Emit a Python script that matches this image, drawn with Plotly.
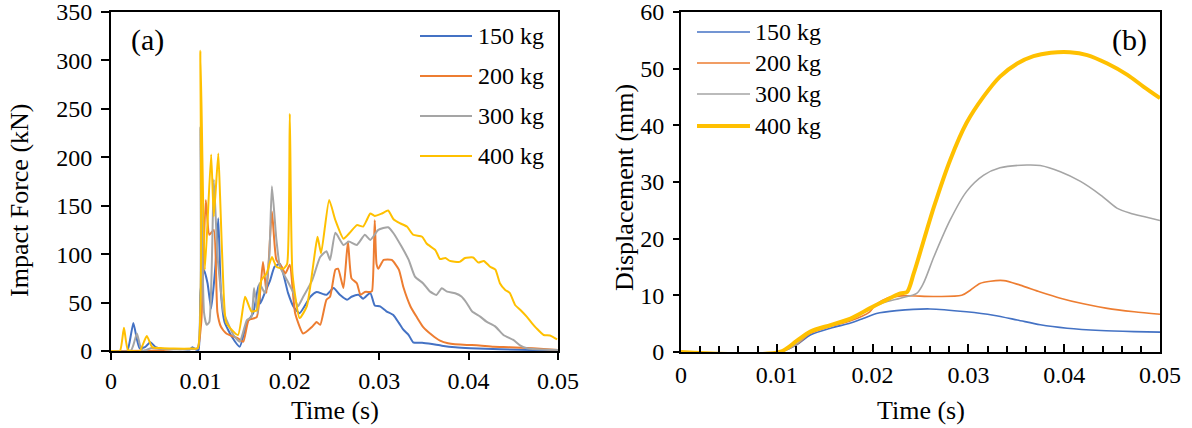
import plotly.graph_objects as go

W, H = 1192, 428
FONT = "Liberation Serif, Times New Roman, serif"

# ---------------- Panel (a): Impact force ----------------
t_150 = [0, .0018, .0021, .0025, .0029, .0032, .0038, .0044, .005, .006, .008, .0088, .0091, .0095, .0098,
         .01, .0104, .0108, .0112, .0117, .012, .0123, .0127, .0135, .0144, .0152, .0159, .0165, .0167, .0172,
         .0178, .0183, .0189, .0198, .0204, .0211, .0223, .023, .0241, .0249, .0256, .0264, .0269, .0277, .0282,
         .029, .0295, .0301, .0308, .0316, .0322, .0327, .0333, .0338, .0348, .0359, .037, .0385, .0402, .0435, .05]
f_150 = [0, 0, 10, 29, 12, 3, 4, 9, 4, 2, 2, 1.5, 4, 1.5, 1,
         60, 84, 70, 44, 90, 137, 60, 30, 15, 4.5, 29, 39, 68, 49, 60,
         73, 87, 90, 60, 46, 39, 56, 61, 58, 65, 58, 53, 56, 58, 54,
         60, 47, 46, 41, 37, 29, 22, 16.5, 9, 8.6, 7.2, 5.5, 3.8, 2.8, 1.7, 0.4]

t_200 = [0, .005, .007, .009, .0097, .0101, .0106, .011, .0115, .0119, .0123, .0129, .0142, .0148, .0154,
         .0163, .017, .0174, .018, .0185, .0191, .0195, .02, .0206, .0215, .0225, .023, .0234, .0241, .0245,
         .0251, .0254, .026, .0265, .0269, .0275, .0279, .0284, .029, .0292, .0295, .0297, .0299, .0305, .0314,
         .0322, .0327, .0335, .0342, .0349, .0359, .0368, .0377, .0398, .0409, .0428, .0446, .0472, .05]
f_200 = [0, 0.5, 2, 2, 3, 30, 156, 120, 125, 40, 25, 18, 13, 9.6, 32,
         35, 92, 60, 144, 94, 87, 80, 89, 39, 18, 25, 30, 27, 53, 56,
         84, 85, 65, 113, 75, 70, 58, 61, 61, 62, 135, 90, 85, 94, 94,
         84, 66, 46, 35, 25, 16.5, 10.7, 8, 6.2, 6, 4.5, 4, 2.8, 1]

t_300 = [0, .0022, .0025, .0029, .0033, .0036, .0045, .006, .009, .0097, .01, .0104, .0107, .011, .0115,
         .0119, .0122, .0126, .0137, .0144, .0152, .0157, .016, .0164, .0166, .0172, .0177, .018, .0185, .0189,
         .0197, .0204, .0209, .0215, .0225, .0234, .0241, .0245, .0251, .026, .0266, .0275, .0284, .029, .0299,
         .031, .0316, .0325, .0333, .034, .0349, .0357, .0364, .037, .0376, .0385, .0392, .0398, .0404, .0413,
         .042, .043, .0439, .045, .0458, .0465, .0476, .05]
f_300 = [0, 0, 6, 18, 4, 0, 3, 2, 2, 3, 231, 40, 27, 30, 177,
         100, 70, 40, 16.5, 9.6, 32, 35, 65, 39, 70, 60, 97, 170, 115, 87,
         73, 60, 46, 56, 73, 97, 103, 94, 122, 109.5, 113, 109.5, 120, 114.7, 125,
         127.8, 121.6, 107.8, 94, 76.8, 70, 61.3, 57.9, 64.8, 61.3, 59.6, 56.2, 49.3, 40.7, 35.5,
         30.3, 25.2, 16.5, 11.4, 5.5, 2.8, 1.7, 1]

t_400 = [0, .001, .00145, .0019, .0032, .004, .0046, .0055, .007, .009, .0097, .01, .0105, .0112, .0115,
         .012, .0122, .0126, .0129, .0142, .015, .0157, .0163, .0168, .0174, .018, .0185, .0193, .0197, .02,
         .0203, .0211, .0219, .0228, .0231, .0235, .0244, .0251, .026, .0267, .0275, .0282, .0286, .029, .0295,
         .0303, .031, .0316, .0323, .0331, .0338, .0348, .0353, .0363, .0368, .0374, .0379, .039, .0396, .0405,
         .0411, .0417, .0424, .043, .0435, .0441, .0446, .0452, .0458, .0465, .0471, .0476, .0484, .0491, .0499]
f_400 = [0, 0, 24, 1, 0, 15.5, 4, 3, 2.5, 2.5, 3, 310, 84, 203, 139,
         204, 160, 60, 29, 16.5, 56, 41, 42, 73, 80, 97, 87, 85, 90, 245,
         80, 34, 46, 101, 118, 101, 156, 135, 116, 122, 130, 128.5, 135, 142, 139.5,
         142, 145, 136, 132, 128.5, 120, 118, 111, 104, 95, 96, 93, 92, 96, 96.5,
         91.3, 93, 87, 84, 70, 63, 60, 47.5, 42.4, 35.5, 28.6, 23.4, 16.5, 16, 12]

# ---------------- Panel (b): Displacement ----------------
td_150 = [0, .0103, .0121, .0135, .0156, .0177, .019, .0204, .0225, .026, .0298, .0326, .0351, .0375, .0403, .0438, .0473, .05]
d_150 = [0, 0, 1.3, 3.0, 4.2, 5.1, 5.9, 6.8, 7.3, 7.6, 7.1, 6.5, 5.65, 4.8, 4.2, 3.8, 3.6, 3.5]

td_200 = [0, .0103, .0121, .0135, .0156, .0177, .0197, .0203, .0215, .023, .0264, .0293, .0302, .0312, .0323,
          .0337, .0354, .0375, .0396, .042, .0445, .0473, .05]
d_200 = [0, 0, 1.4, 3.3, 4.5, 5.5, 7.1, 8.3, 9.5, 9.9, 9.8, 10.0, 10.9, 12.1, 12.5,
         12.6, 11.8, 10.6, 9.5, 8.5, 7.7, 7.1, 6.65]

td_300 = [0, .0103, .0121, .0135, .0156, .0177, .0197, .0211, .0229, .0246, .0253, .0264, .0281, .0298, .0316,
          .0333, .0361, .0375, .0396, .0417, .0438, .0455, .0469, .0483, .05]
d_300 = [0, 0, 1.45, 3.45, 4.6, 5.7, 7.6, 8.7, 9.5, 10.35, 12.1, 16.8, 23.3, 28.3, 31.2,
         32.5, 33, 32.9, 31.8, 30.1, 27.7, 25.4, 24.5, 23.9, 23.2]

td_400 = [0, .0103, .0121, .0135, .0156, .0177, .0197, .0211, .0229, .0236, .0243, .0264, .0281, .0298, .0316,
          .0333, .0351, .0368, .0386, .0406, .0424, .0445, .0466, .0483, .05]
d_400 = [0, 0, 2.0, 3.6, 4.76, 5.9, 7.7, 8.9, 10.35, 10.6, 13.9, 25.6, 33.9, 40.4, 45.1,
         48.6, 50.9, 52.2, 52.8, 52.9, 52.4, 50.9, 48.9, 46.8, 44.8]

labels = ["150 kg", "200 kg", "300 kg", "400 kg"]
colors = ["#4472C4", "#ED7D31", "#A5A5A5", "#FFC000"]
x_ticktext = ["0", "0.01", "0.02", "0.03", "0.04", "0.05"]
x_ticks = [0, 0.01, 0.02, 0.03, 0.04, 0.05]
ya_ticks = [0, 50, 100, 150, 200, 250, 300, 350]
yb_ticks = [0, 10, 20, 30, 40, 50, 60]

def px(x):
    return x / W

def py(y):
    return 1 - y / H

fig = go.Figure()

force_sets = [(t_150, f_150), (t_200, f_200), (t_300, f_300), (t_400, f_400)]
for (tt, ff), lab, col in zip(force_sets, labels, colors):
    fig.add_trace(go.Scatter(x=tt, y=ff, mode="lines", name=lab, showlegend=False,
                             line=dict(color=col, width=2, shape="spline", smoothing=0.5),
                             xaxis="x", yaxis="y"))

disp_sets = [(td_150, d_150), (td_200, d_200), (td_300, d_300), (td_400, d_400)]
disp_widths = [1.6, 1.6, 1.6, 4]
for (tt, dd), lab, col, w in zip(disp_sets, labels, colors, disp_widths):
    fig.add_trace(go.Scatter(x=tt, y=dd, mode="lines", name=lab, showlegend=False,
                             line=dict(color=col, width=w, shape="spline", smoothing=0.8),
                             xaxis="x2", yaxis="y2"))

tickfont = dict(family=FONT, size=24, color="black")
axis_common = dict(showgrid=False, zeroline=False, showline=True, linecolor="black", linewidth=2,
                   mirror=True, tickcolor="black", tickwidth=2, tickfont=tickfont,
                   automargin=False, ticklabeloverflow="allow")

fig.update_layout(
    template="none",
    width=W, height=H, margin=dict(l=0, r=0, t=0, b=0, autoexpand=False),
    paper_bgcolor="white", plot_bgcolor="white", font=dict(family=FONT),
    xaxis=dict(domain=[px(111), px(558)], range=[0, 0.05], anchor="y",
               tickmode="array", tickvals=x_ticks, ticktext=x_ticktext, ticks="outside", ticklen=7, **axis_common),
    yaxis=dict(domain=[py(351), py(12)], range=[0, 350], anchor="x", ticklabelstandoff=4,
               tickmode="array", tickvals=ya_ticks, ticks="outside", ticklen=8, **axis_common),
    xaxis2=dict(domain=[px(681), px(1160)], range=[0, 0.05], anchor="y2",
                tickmode="array", tickvals=x_ticks, ticktext=x_ticktext, ticks="inside", ticklen=8,
                minor=dict(ticks="inside", ticklen=6, tickwidth=1.5, tickcolor="black",
                           tickmode="linear", dtick=0.002, tick0=0, showgrid=False),
                **axis_common),
    yaxis2=dict(domain=[py(352), py(12)], range=[0, 60], anchor="x2", ticklabelstandoff=4,
                tickmode="array", tickvals=yb_ticks, ticks="outside", ticklen=6, **axis_common),
)

annos = []
def text(x, y, s, size, angle=0, xanchor="center"):
    annos.append(dict(x=px(x), y=py(y), xref="paper", yref="paper", text=s, showarrow=False,
                      xanchor=xanchor, yanchor="middle", textangle=angle,
                      font=dict(family=FONT, size=size, color="black")))

text(335, 410, "Time (s)", 26)
text(921, 410, "Time (s)", 26)
text(19, 201, "Impact Force (kN)", 26, angle=-90)
text(625, 188, "Displacement (mm)", 26, angle=-90)
text(147, 40, "(a)", 30)
text(1129, 40, "(b)", 30)

shapes = []
leg_a_y = [36, 76, 116, 156]
for yy, lab, col in zip(leg_a_y, labels, colors):
    shapes.append(dict(type="line", xref="paper", yref="paper", x0=px(420), x1=px(472), y0=py(yy), y1=py(yy),
                       line=dict(color=col, width=2)))
    text(476, yy, lab, 24, xanchor="left")

leg_b_y = [32, 63, 94, 126]
for yy, lab, col, w in zip(leg_b_y, labels, colors, disp_widths):
    shapes.append(dict(type="line", xref="paper", yref="paper", x0=px(697), x1=px(750), y0=py(yy), y1=py(yy),
                       line=dict(color=col, width=w)))
    text(753, yy, lab, 24, xanchor="left")

fig.update_layout(annotations=annos, shapes=shapes)
fig.write_html("out.html")
